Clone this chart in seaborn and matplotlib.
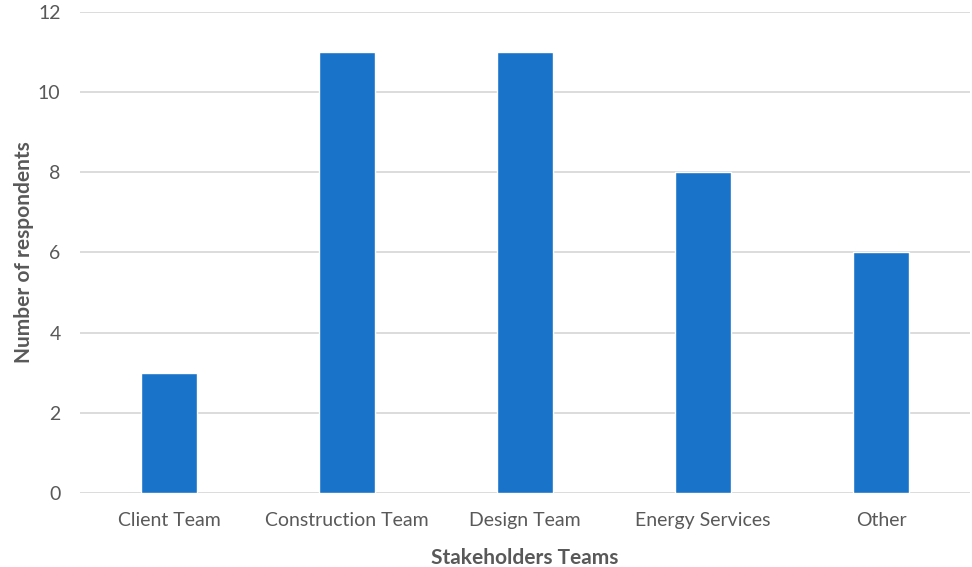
import matplotlib
matplotlib.use("Agg")
import matplotlib.pyplot as plt
import seaborn as sns
import pandas as pd

categories = ["Client Team", "Construction Team", "Design Team", "Energy Services", "Other"]
values = [3, 11, 11, 8, 6]
yticks = [0, 2, 4, 6, 8, 10, 12]

sns.set_theme(style="white")
plt.rcParams['font.family'] = ['Lato', 'DejaVu Sans']

df = pd.DataFrame({"team": categories, "count": values})

fig = plt.figure(figsize=(9.72, 5.67), dpi=100)
ax = fig.add_axes([0.0823, 0.1305, 0.9157, 0.8485])

sns.barplot(data=df, x="team", y="count", color="#1873C9", width=0.315,
            saturation=1, ax=ax, zorder=3)

ax.set_ylim(0, 12)
ax.set_yticks(yticks)
ax.yaxis.grid(True, color="#D9D9D9", linewidth=1.3, zorder=0)
ax.set_axisbelow(True)
for s in ax.spines.values():
    s.set_visible(False)
ax.tick_params(axis="both", length=0, labelsize=14, colors="#595959")
ax.tick_params(axis="x", pad=14)
ax.tick_params(axis="y", pad=14)
ax.set_xlabel("Stakeholders Teams", fontsize=15, fontweight="bold", color="#595959", labelpad=13)
ax.set_ylabel("Number of respondents", fontsize=15, fontweight="bold", color="#595959", labelpad=3)

fig.savefig("out.png", dpi=100)
